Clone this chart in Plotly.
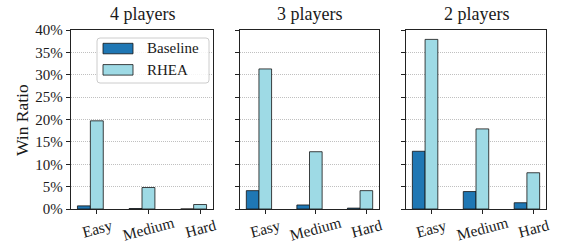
import plotly.graph_objects as go

difficulties = ["Easy", "Medium", "Hard"]
panels = ["4 players", "3 players", "2 players"]
series_names = ["Baseline", "RHEA"]
baseline = {
    "4 players": [0.7, 0.1, 0.0],
    "3 players": [4.1, 0.9, 0.2],
    "2 players": [12.9, 3.9, 1.4],
}
rhea = {
    "4 players": [19.7, 4.8, 1.0],
    "3 players": [31.3, 12.8, 4.1],
    "2 players": [37.9, 17.9, 8.1],
}
y_ticks = [0, 5, 10, 15, 20, 25, 30, 35, 40]
y_tick_labels = [f"{t}%" for t in y_ticks]

BASE_C = "#1f77b4"
RHEA_C = "#9edae5"
EDGE = "rgba(20,20,20,0.8)"
FONT = "Liberation Serif"
TXT = "#1a1a1a"

W, H = 568, 250
x_domains = [(71 / W, 213 / W), (240 / W, 379 / W), (406 / W, 546 / W)]
y_dom = (1 - 209 / H, 1 - 30 / H)

fig = go.Figure()
idx = list(range(len(difficulties)))
for k, p in enumerate(panels):
    xa = "x" if k == 0 else f"x{k+1}"
    ya = "y" if k == 0 else f"y{k+1}"
    fig.add_trace(go.Bar(
        x=[i - 0.25 for i in idx], y=baseline[p], width=0.25,
        marker=dict(color=BASE_C, line=dict(color=EDGE, width=1)),
        name=series_names[0], showlegend=False, xaxis=xa, yaxis=ya,
    ))
    fig.add_trace(go.Bar(
        x=idx, y=rhea[p], width=0.25,
        marker=dict(color=RHEA_C, line=dict(color=EDGE, width=1)),
        name=series_names[1], showlegend=False, xaxis=xa, yaxis=ya,
    ))

layout = dict(
    width=W, height=H, margin=dict(l=0, r=0, t=0, b=0),
    plot_bgcolor="white", paper_bgcolor="white",
    barmode="overlay", bargap=0, showlegend=False,
    font=dict(family=FONT, size=15, color=TXT),
)
for k in range(3):
    xs = "xaxis" if k == 0 else f"xaxis{k+1}"
    ys = "yaxis" if k == 0 else f"yaxis{k+1}"
    yref = "y" if k == 0 else f"y{k+1}"
    xref = "x" if k == 0 else f"x{k+1}"
    layout[xs] = dict(
        domain=list(x_domains[k]), anchor=yref, range=[-0.5, 2.25],
        tickmode="array", tickvals=idx, ticktext=["" for _ in idx],
        ticks="outside", ticklen=4, tickcolor="#222", showgrid=False,
        showline=True, linecolor="#222", linewidth=1.3, mirror=True,
        zeroline=False, automargin=False,
    )
    layout[ys] = dict(
        domain=list(y_dom), anchor=xref, range=[0, 40],
        tickmode="array", tickvals=y_ticks, ticktext=y_tick_labels,
        showticklabels=(k == 0), ticks="outside", ticklen=4, tickcolor="#222",
        showgrid=True, gridcolor="#b0b0b0", griddash="1px,1px", gridwidth=0.8,
        showline=True, linecolor="#222", linewidth=1.3, mirror=True,
        tickfont=dict(family=FONT, size=15, color=TXT), zeroline=False,
        automargin=False,
    )
fig.update_layout(**layout)

# y axis title
fig.add_annotation(text="Win Ratio", x=22 / W, y=1 - 120 / H, xref="paper", yref="paper",
                   showarrow=False, textangle=-90, font=dict(family=FONT, size=17.5, color=TXT),
                   xanchor="center", yanchor="middle")

# panel titles and rotated category labels
for k, p in enumerate(panels):
    cx = (x_domains[k][0] + x_domains[k][1]) / 2
    fig.add_annotation(text=p, x=cx, y=1 - 14 / H, xref="paper", yref="paper",
                       showarrow=False, font=dict(family=FONT, size=18, color=TXT),
                       xanchor="center", yanchor="middle")
    xref = "x" if k == 0 else f"x{k+1}"
    for i, d in enumerate(difficulties):
        fig.add_annotation(text=d, x=i, y=1 - 228 / H, xref=xref, yref="paper",
                           showarrow=False, textangle=-15,
                           font=dict(family=FONT, size=15.5, color=TXT),
                           xanchor="center", yanchor="middle")

# legend (drawn box in panel 1, rounded corners)
lx0, lx1, ly0, ly1, r = 97 / W, 209 / W, 1 - 38 / H, 1 - 83 / H, 3
rx, ry = r / W, r / H
legend_path = (
    f"M {lx0 + rx},{ly0} L {lx1 - rx},{ly0} Q {lx1},{ly0} {lx1},{ly0 - ry} "
    f"L {lx1},{ly1 + ry} Q {lx1},{ly1} {lx1 - rx},{ly1} "
    f"L {lx0 + rx},{ly1} Q {lx0},{ly1} {lx0},{ly1 + ry} "
    f"L {lx0},{ly0 - ry} Q {lx0},{ly0} {lx0 + rx},{ly0} Z"
)
fig.add_shape(type="path", xref="paper", yref="paper", path=legend_path,
              line=dict(color="#cccccc", width=1), fillcolor="rgba(255,255,255,0.85)",
              layer="above")
for j, (nm, col) in enumerate(zip(series_names, [BASE_C, RHEA_C])):
    top = 43.3 + j * 21.3
    fig.add_shape(type="rect", xref="paper", yref="paper",
                  x0=103 / W, x1=133 / W, y0=1 - (top + 10.5) / H, y1=1 - top / H,
                  line=dict(color=EDGE, width=1), fillcolor=col, layer="above")
    fig.add_annotation(text=nm, x=145 / W, y=1 - (top + 5.2) / H, xref="paper", yref="paper",
                       showarrow=False, font=dict(family=FONT, size=15, color=TXT),
                       xanchor="left", yanchor="middle")

fig.write_html(
    "out.html",
    config={"displayModeBar": False, "staticPlot": True},
    post_script="document.body.style.margin='0px';document.body.style.overflow='hidden';",
)
